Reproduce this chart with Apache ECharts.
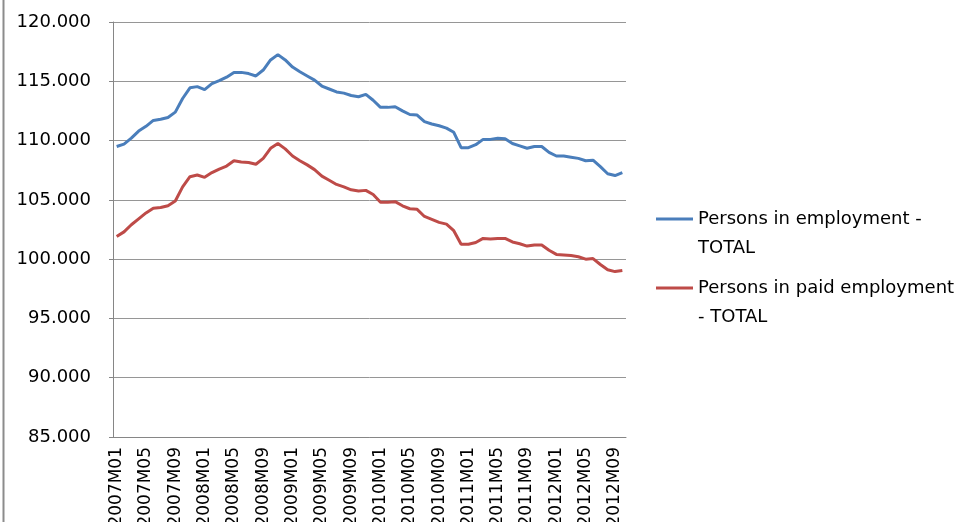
<!DOCTYPE html>
<html>
<head>
<meta charset="utf-8">
<script src="https://cdn.jsdelivr.net/npm/echarts@6/dist/echarts.min.js"></script>
<style>
html,body{margin:0;padding:0;background:#fff;}
#chart{width:967px;height:522px;}
</style>
</head>
<body>
<div id="chart"></div>
<script>
const categories = [];
const years = ['2007','2008','2009','2010','2011','2012'];
years.forEach(y => { for (let m = 1; m <= 12; m++) categories.push(y + 'M' + (m < 10 ? '0' + m : '' + m)); });
categories.length = 70; // 2007M01 .. 2012M10

const seriesNames = ['Persons in employment - TOTAL', 'Persons in paid employment - TOTAL'];
const legendLabels = ['\nPersons in employment -\nTOTAL', '\nPersons in paid employment\n- TOTAL'];

const employment = [
  109.5, 109.7, 110.2, 110.8, 111.2, 111.7, 111.8, 111.95, 112.4, 113.55, 114.45, 114.55,
  114.3, 114.8, 115.05, 115.35, 115.75, 115.75, 115.65, 115.45, 115.95, 116.8, 117.25, 116.8,
  116.2, 115.8, 115.45, 115.1, 114.6, 114.35, 114.1, 114.0, 113.8, 113.7, 113.9, 113.4,
  112.8, 112.8, 112.85, 112.5, 112.2, 112.15, 111.6, 111.4, 111.25, 111.05, 110.7, 109.4,
  109.4, 109.65, 110.1, 110.1, 110.2, 110.15, 109.75, 109.55, 109.35, 109.5, 109.5, 109.0,
  108.7, 108.7, 108.6, 108.5, 108.3, 108.35, 107.8, 107.2, 107.05, 107.3
];
const paidEmployment = [
  101.9, 102.3, 102.9, 103.4, 103.9, 104.3, 104.35, 104.5, 104.9, 106.1, 106.95, 107.1,
  106.9, 107.3, 107.6, 107.85, 108.3, 108.2, 108.15, 108.0, 108.5, 109.35, 109.75, 109.3,
  108.7, 108.3, 107.95, 107.55, 107.0, 106.65, 106.3, 106.1, 105.85, 105.75, 105.8, 105.45,
  104.8, 104.8, 104.85, 104.5, 104.25, 104.2, 103.6, 103.35, 103.1, 102.95, 102.4, 101.25,
  101.25, 101.4, 101.75, 101.7, 101.75, 101.75, 101.45, 101.3, 101.1, 101.2, 101.2, 100.75,
  100.4, 100.35, 100.3, 100.2, 100.0, 100.05, 99.55, 99.1, 98.95, 99.05
];

const yMin = 85, yMax = 120, yStep = 5;
const colors = ['#4A7EBB', '#BE4B48'];
const FONT = 'DejaVu Sans';

const chart = echarts.init(document.getElementById('chart'), null, {renderer: 'canvas'});

function legendFor(i, top) {
  return {
    data: [seriesNames[i]],
    left: 656,
    top: top,
    padding: 0,
    icon: 'rect',
    itemWidth: 37,
    itemHeight: 3,
    formatter: () => legendLabels[i],
    selectedMode: false,
    textStyle: {fontFamily: FONT, fontSize: 18, color: '#000', lineHeight: 29}
  };
}

chart.setOption({
  backgroundColor: '#fff',
  animation: false,
  color: colors,
  grid: {left: 113, right: 341, top: 22, bottom: 85, containLabel: false, outerBoundsMode: 'none'},
  legend: [legendFor(0, 175.5), legendFor(1, 244.5)],
  graphic: [{
    type: 'line',
    shape: {x1: 3.5, y1: 0, x2: 3.5, y2: 522},
    style: {stroke: '#8c8c8c', lineWidth: 2},
    silent: true
  }],
  xAxis: {
    type: 'category',
    data: categories,
    boundaryGap: true,
    axisLine: {lineStyle: {color: '#868686', width: 1}},
    axisTick: {show: false},
    axisLabel: {
      interval: 3, rotate: 90, margin: 10,
      fontFamily: FONT, fontSize: 17, color: '#000'
    },
    splitLine: {show: false}
  },
  yAxis: {
    type: 'value',
    min: yMin, max: yMax, interval: yStep,
    axisLine: {show: true, lineStyle: {color: '#868686', width: 1}},
    axisTick: {show: true, length: 4, lineStyle: {color: '#868686'}},
    axisLabel: {
      margin: 22, fontFamily: FONT, fontSize: 18, color: '#000',
      formatter: v => v.toFixed(3)
    },
    splitLine: {show: true, lineStyle: {color: '#969696', width: 1}}
  },
  series: [
    {name: seriesNames[0], type: 'line', data: employment, showSymbol: false, symbol: 'none',
     lineStyle: {width: 3, color: colors[0]}, itemStyle: {color: colors[0]}},
    {name: seriesNames[1], type: 'line', data: paidEmployment, showSymbol: false, symbol: 'none',
     lineStyle: {width: 3, color: colors[1]}, itemStyle: {color: colors[1]}}
  ]
});
</script>
</body>
</html>
